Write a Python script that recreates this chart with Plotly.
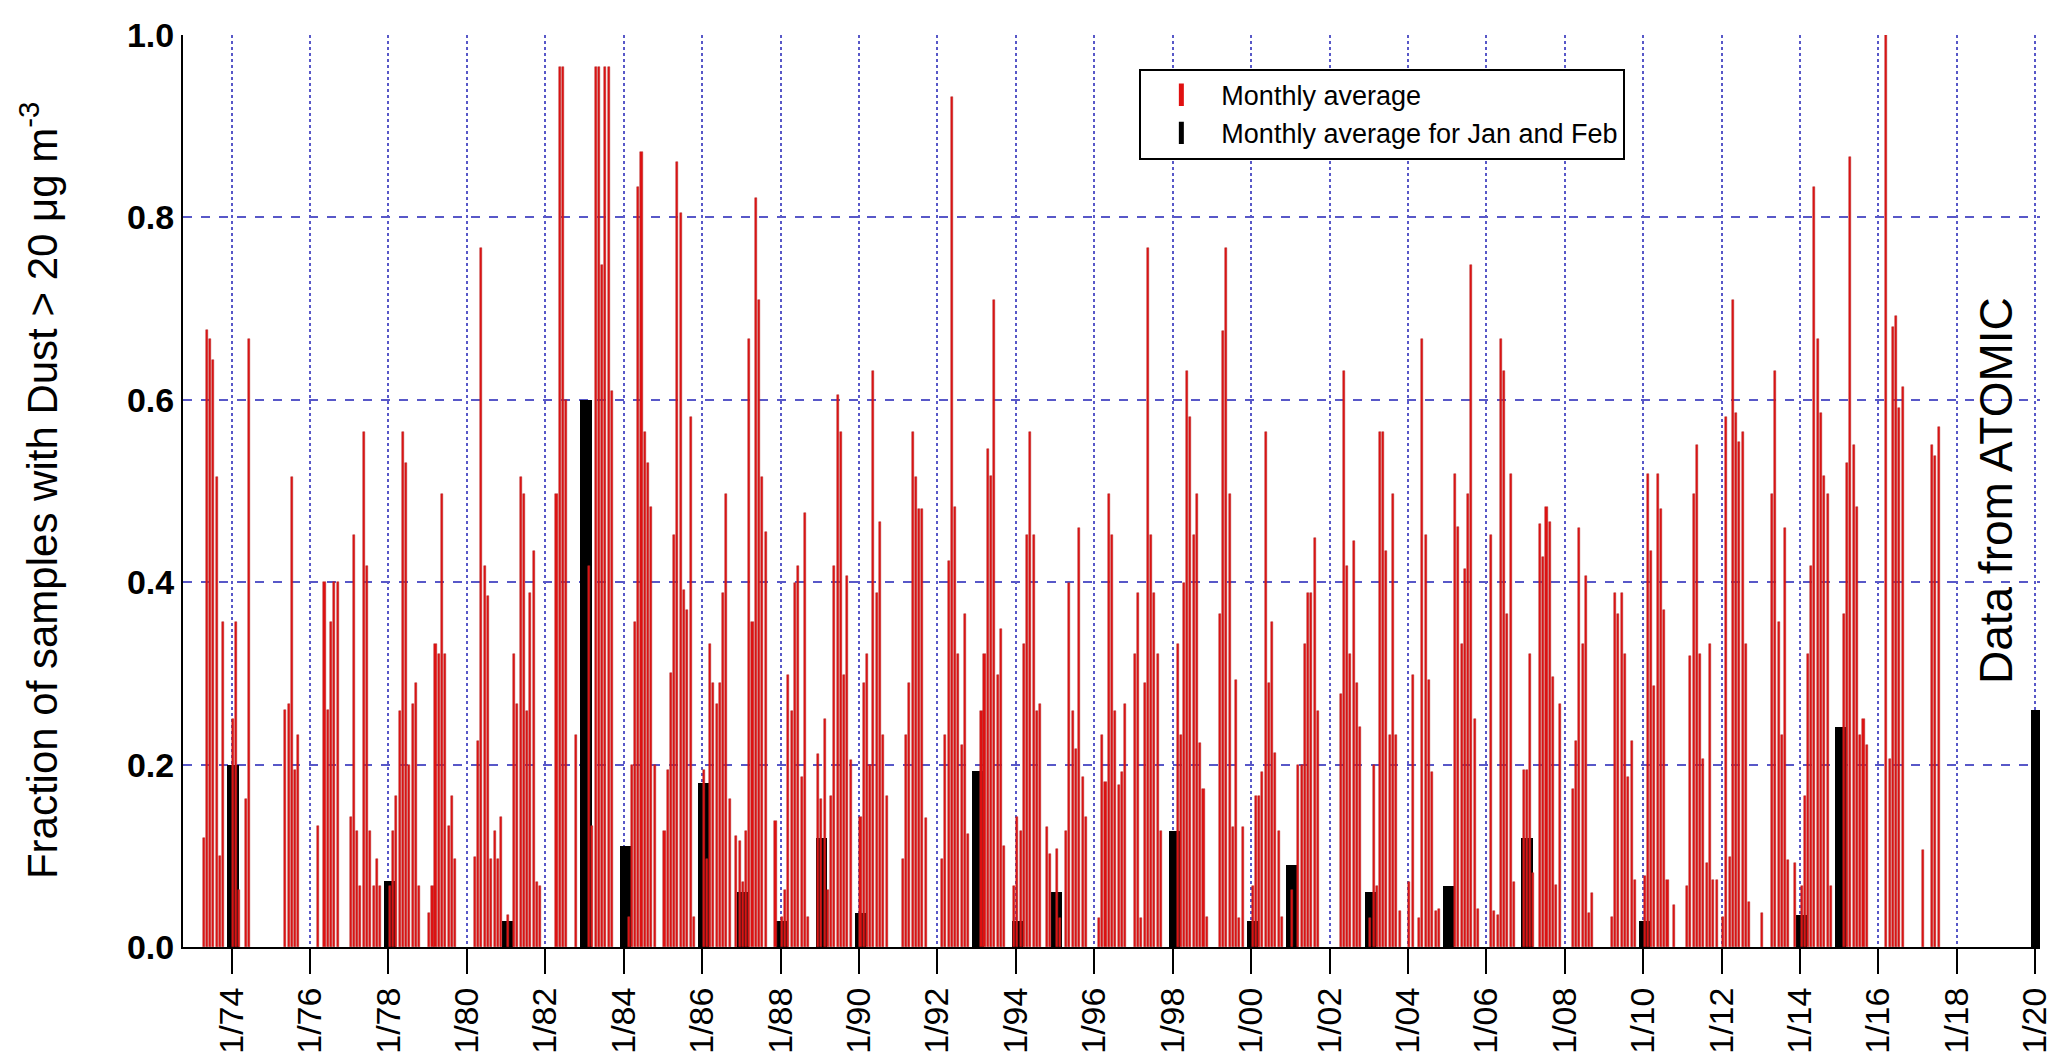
import plotly.graph_objects as go

# Monthly average fraction of samples with dust > 20 ug/m3 (Jan..Dec rows, None = no bar)
red_1970s = [  # Jan 1973 - Dec 1979
    None, None, None, 0.12, 0.676, 0.667, 0.644, 0.515, 0.10, 0.356, None, None,   # 1973
    0.25, 0.356, 0.063, None, 0.162, 0.667, None, None, None, None, None, None,     # 1974
    None, None, None, None, 0.26, 0.267, 0.515, 0.194, 0.233, None, None, None,     # 1975
    None, None, 0.133, None, 0.40, 0.26, 0.356, 0.40, 0.40, None, None, None,       # 1976
    0.143, 0.452, 0.127, 0.067, 0.565, 0.418, 0.127, 0.067, 0.097, 0.067, None, None,  # 1977
    0.067, 0.127, 0.166, 0.259, 0.565, 0.531, 0.20, 0.267, 0.289, 0.067, None, None,   # 1978
    0.037, 0.067, 0.332, 0.321, 0.497, 0.321, 0.133, 0.166, 0.097, None, None, None,   # 1979
]
red_1980s = [  # Jan 1980 - Dec 1989
    None, None, 0.099, 0.226, 0.766, 0.418, 0.385, 0.097, 0.127, 0.097, 0.143, None,   # 1980
    0.035, None, 0.321, 0.267, 0.515, 0.497, 0.259, 0.388, 0.434, 0.071, 0.067, None,  # 1981
    None, None, None, 0.497, 0.965, 0.965, 0.60, None, None, 0.233, None, None,        # 1982
    None, 0.418, 0.133, 0.965, 0.965, 0.748, 0.965, 0.965, 0.61, None, None, None,     # 1983
    None, 0.033, 0.20, 0.356, 0.833, 0.872, 0.565, 0.531, 0.483, 0.20, None, None,     # 1984
    0.127, 0.194, 0.30, 0.452, 0.861, 0.805, 0.392, 0.37, 0.581, 0.033, None, None,    # 1985
    0.194, 0.097, 0.332, 0.289, 0.267, 0.289, 0.388, 0.497, 0.162, None, 0.122, 0.116, # 1986
    0.071, 0.127, 0.667, 0.356, 0.821, 0.709, 0.515, 0.455, None, None, 0.138, None,   # 1987
    0.033, 0.063, 0.298, 0.259, 0.399, 0.418, 0.186, 0.476, 0.033, None, None, 0.212,  # 1988
    0.162, 0.25, 0.063, 0.166, 0.418, 0.605, 0.565, 0.298, 0.407, 0.205, None, None,   # 1989
]
red_1990s = [  # Jan 1990 - Dec 1999
    0.143, 0.289, 0.321, 0.20, 0.632, 0.388, 0.466, 0.233, 0.166, None, None, None,    # 1990
    None, 0.097, 0.233, 0.289, 0.565, 0.515, 0.48, 0.48, 0.141, None, None, None,      # 1991
    None, 0.097, 0.233, 0.423, 0.932, 0.483, 0.321, 0.222, 0.365, 0.124, None, None,   # 1992
    None, 0.259, 0.321, 0.546, 0.517, 0.709, 0.298, 0.349, 0.111, None, None, 0.067,   # 1993
    0.143, 0.127, 0.332, 0.452, 0.565, 0.452, 0.259, 0.267, None, 0.132, 0.102, None,  # 1994
    0.107, 0.032, None, 0.127, 0.399, 0.259, 0.217, 0.459, 0.186, 0.143, None, None,   # 1995
    None, 0.032, 0.233, 0.181, 0.497, 0.452, 0.259, 0.178, 0.192, 0.267, None, None,   # 1996
    0.321, 0.388, 0.032, 0.289, 0.766, 0.452, 0.388, 0.321, 0.127, None, None, None,   # 1997
    None, 0.332, 0.233, 0.399, 0.632, 0.581, 0.452, 0.497, 0.224, 0.173, 0.033, None,  # 1998
    None, None, 0.365, 0.675, 0.766, 0.497, 0.132, 0.293, 0.032, 0.132, None, None,    # 1999
]
red_2000s = [  # Jan 2000 - Dec 2009
    0.067, 0.166, 0.166, 0.192, 0.565, 0.289, 0.356, 0.213, 0.127, 0.033, None, None,  # 2000
    0.063, None, 0.20, 0.20, 0.332, 0.388, 0.388, 0.448, 0.259, None, None, None,      # 2001
    None, None, None, 0.277, 0.632, 0.418, 0.321, 0.445, 0.289, 0.241, None, None,     # 2002
    0.032, 0.20, 0.067, 0.565, 0.565, 0.434, 0.233, 0.497, 0.233, 0.039, None, None,  # 2003
    0.071, 0.298, None, 0.032, 0.667, 0.452, 0.293, 0.192, 0.039, 0.042, None, None,  # 2004
    None, None, 0.519, 0.461, 0.332, 0.414, 0.497, 0.748, 0.25, 0.042, None, None,    # 2005
    None, 0.452, 0.039, 0.035, 0.667, 0.632, 0.365, 0.519, 0.071, None, None, 0.194,  # 2006
    0.194, 0.321, 0.081, None, 0.464, 0.428, 0.483, 0.466, 0.296, 0.068, 0.267, None, # 2007
    None, None, 0.173, 0.226, 0.459, 0.332, 0.407, 0.037, 0.059, None, None, None,    # 2008
    None, None, 0.033, 0.388, 0.365, 0.388, 0.321, 0.186, 0.226, 0.074, None, None,   # 2009
]
red_2010s = [  # Jan 2010 - Dec 2017
    0.078, 0.519, 0.434, 0.286, 0.519, 0.48, 0.37, 0.074, None, 0.046, None, None,    # 2010
    None, 0.067, 0.319, 0.497, 0.55, 0.321, 0.206, 0.092, 0.332, 0.074, 0.074, None,  # 2011
    0.033, 0.581, 0.099, 0.709, 0.586, 0.554, 0.565, 0.332, 0.049, None, None, None,  # 2012
    0.037, None, None, 0.497, 0.632, 0.356, 0.233, 0.459, 0.095, None, 0.092, None,   # 2013
    0.067, 0.166, 0.321, 0.418, 0.833, 0.667, 0.586, 0.517, 0.497, 0.067, None, None, # 2014
    None, 0.365, 0.531, 0.866, 0.55, 0.482, 0.233, 0.25, 0.222, None, None, None,     # 2015
    None, None, 1.0, 0.206, 0.68, 0.692, 0.591, 0.614, None, None, None, None,        # 2016
    None, 0.106, None, None, 0.55, 0.538, 0.57, None, None, None, None, None,         # 2017
]
red_blocks = [(1973, red_1970s), (1980, red_1980s), (1990, red_1990s),
              (2000, red_2000s), (2010, red_2010s)]

# Jan-Feb averages (last one: ATOMIC campaign)
jf_years = [1974, 1978, 1981, 1983, 1984, 1986, 1987, 1988, 1989, 1990, 1993, 1994,
            1995, 1998, 2000, 2001, 2003, 2005, 2007, 2010, 2014, 2015, 2020]
jf_values = [0.20, 0.072, 0.028, 0.60, 0.111, 0.18, 0.06, 0.028, 0.12, 0.037, 0.193, 0.028,
             0.06, 0.127, 0.028, 0.09, 0.06, 0.067, 0.12, 0.028, 0.035, 0.241, 0.26]

tick_years = [1974, 1976, 1978, 1980, 1982, 1984, 1986, 1988, 1990, 1992, 1994, 1996,
              1998, 2000, 2002, 2004, 2006, 2008, 2010, 2012, 2014, 2016, 2018, 2020]
tick_labels = ["1/74", "1/76", "1/78", "1/80", "1/82", "1/84", "1/86", "1/88", "1/90",
               "1/92", "1/94", "1/96", "1/98", "1/00", "1/02", "1/04", "1/06", "1/08",
               "1/10", "1/12", "1/14", "1/16", "1/18", "1/20"]
y_ticks = [0.0, 0.2, 0.4, 0.6, 0.8, 1.0]

red_x, red_y = [], []
for start, vals in red_blocks:
    for i, v in enumerate(vals):
        if v is not None:
            red_x.append(f"{start + i // 12}-{i % 12 + 1:02d}-15")
            red_y.append(v)

jf_x = [f"{y}-01-15" for y in jf_years]

DAY = 86400000
FONT = "Liberation Sans, Arial, sans-serif"
GRID = "rgb(88,88,200)"
RED = "#e01010"
RED_EDGE = "#b02828"

fig = go.Figure()
fig.add_trace(go.Bar(
    x=jf_x, y=jf_values, name="Monthly average for Jan and Feb", showlegend=False,
    marker=dict(color="black", line=dict(width=0)), width=[106 * DAY] * len(jf_x),
))
fig.add_trace(go.Bar(
    x=red_x, y=red_y, name="Monthly average", showlegend=False,
    marker=dict(color=RED, line=dict(color=RED_EDGE, width=0.5)),
    width=[19 * DAY] * len(red_x),
))
# legend entries drawn as short vertical bars
for name, col in [("Monthly average", RED), ("Monthly average for Jan and Feb", "black")]:
    fig.add_trace(go.Scatter(
        x=[None], y=[None], mode="markers", name=name,
        marker=dict(symbol="line-ns", size=16, color=col, line=dict(color=col, width=5)),
    ))

fig.add_annotation(
    x="2019-01-01", y=0.50, xref="x", yref="y", text="Data from ATOMIC",
    textangle=-90, showarrow=False, font=dict(family=FONT, size=46, color="black"),
)
fig.add_annotation(
    x=-0.0775, y=0.5, xref="paper", yref="paper", xanchor="center", yanchor="middle",
    text="Fraction of samples with Dust > 20 μg m<sup>-3</sup>",
    textangle=-90, showarrow=False, font=dict(family=FONT, size=42, color="black"),
)

fig.update_layout(
    width=2063, height=1063,
    margin=dict(l=175, r=31, t=27, b=124),
    paper_bgcolor="white", plot_bgcolor="white",
    barmode="overlay", bargap=0,
    showlegend=True,
    legend=dict(
        x=0.515, y=0.963, xanchor="left", yanchor="top",
        bgcolor="white", bordercolor="black", borderwidth=2,
        font=dict(family=FONT, size=27, color="black"),
        itemwidth=70, tracegroupgap=0,
    ),
    xaxis=dict(
        type="date", range=["1972-10-05", "2020-02-14"], automargin=False,
        tickvals=[f"{y}-01-01" for y in tick_years], ticktext=tick_labels,
        tickangle=-90, ticks="outside", ticklen=25, tickwidth=2, tickcolor="black",
        tickfont=dict(family=FONT, size=34, color="black"),
        showgrid=True, gridcolor=GRID, griddash="dot", gridwidth=1.5,
        showline=True, linecolor="black", linewidth=2, zeroline=False,
    ),
    yaxis=dict(
        range=[0, 1.0], tickvals=y_ticks, ticktext=[f"<b>{v:.1f}</b>" for v in y_ticks],
        ticks="", tickfont=dict(family=FONT, size=34, color="black"), automargin=False,
        showgrid=True, gridcolor=GRID, griddash="dash", gridwidth=1.5,
        showline=True, linecolor="black", linewidth=2, zeroline=False,
    ),
)

fig.write_html("out.html")
